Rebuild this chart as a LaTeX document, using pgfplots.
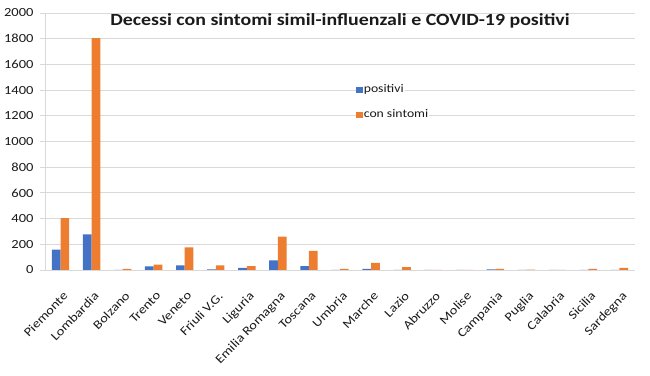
\documentclass[border=0pt]{standalone}
\usepackage{pgfplots}
\pgfplotsset{compat=1.18}
\usepackage{fontspec}
\setmainfont[FakeStretch=1.17]{Carlito}
\definecolor{cblue}{HTML}{4472C4}
\definecolor{corange}{HTML}{ED7D31}
\definecolor{cgrid}{HTML}{D9D9D9}
\definecolor{ctext}{HTML}{1A1A1A}
\begin{document}
\begin{tikzpicture}
\begin{axis}[
  name=ax,
  scale only axis,
  width=590pt, height=257pt,
  ybar=0pt, bar width=8.7pt,
  ymin=0, ymax=2000, ytick={0,200,...,2000},
  xmin=-0.5, xmax=18.5,
  xtick={0,...,18},
  xticklabels={Piemonte,Lombardia,Bolzano,Trento,Veneto,Friuli V.G.,Liguria,Emilia Romagna,Toscana,Umbria,Marche,Lazio,Abruzzo,Molise,Campania,Puglia,Calabria,Sicilia,Sardegna},
  minor xtick={-0.5,0.5,...,18.5},
  axis lines*=left,
  axis line style={cgrid, line width=0.8pt},
  xtick style={draw=none},
  ytick style={cgrid, line width=0.8pt},
  major tick length=5pt,
  minor tick length=5pt,
  minor x tick style={cgrid, line width=0.8pt},
  tick align=outside,
  ymajorgrids, major grid style={cgrid, line width=0.8pt},
  /pgf/number format/1000 sep={},
  /pgf/number format/assume math mode=true,
  ticklabel style={font=\fontsize{12.4}{14}\selectfont, text=ctext},
  xticklabel style={rotate=46, anchor=north east, inner sep=1pt, xshift=-9pt, yshift=-11pt},
  yticklabel style={xshift=-3pt},
  title={\textbf{Decessi con sintomi simil-influenzali e COVID-19 positivi}},
  title style={font=\fontsize{17}{20}\selectfont, text=ctext, at={(0.5,1)}, anchor=north, yshift=-3pt},
  legend style={draw=none, fill=none, at={(0.527,0.652)}, anchor=west,
    font=\fontsize{11.7}{14}\selectfont, text=ctext, row sep=13pt, column sep=0pt, inner sep=0pt,
    nodes={fill=white, inner sep=1pt, text height=8pt, text depth=2pt}},
  legend cell align=left,
  legend image code/.code={\fill[#1] (0pt,-3.3pt) rectangle (6.7pt,3.3pt);},
]
\addplot[fill=cblue, draw=none] coordinates {
(0,158) (1,278) (2,0) (3,29) (4,36) (5,5) (6,16) (7,75) (8,31) (9,0)
(10,8) (11,0) (12,0) (13,0) (14,4) (15,0) (16,0) (17,0) (18,0)};
\addplot[fill=corange, draw=none] coordinates {
(0,404) (1,1805) (2,8) (3,41) (4,176) (5,36) (6,31) (7,259) (8,148) (9,8)
(10,56) (11,23) (12,0) (13,0) (14,8) (15,3) (16,0) (17,8) (18,16)};
\legend{positivi, con sintomi}
\end{axis}
\pgfresetboundingbox
\path ([shift={(-45pt,-106pt)}]ax.south west) rectangle ([shift={(15pt,13pt)}]ax.north east);
\end{tikzpicture}
\end{document}
